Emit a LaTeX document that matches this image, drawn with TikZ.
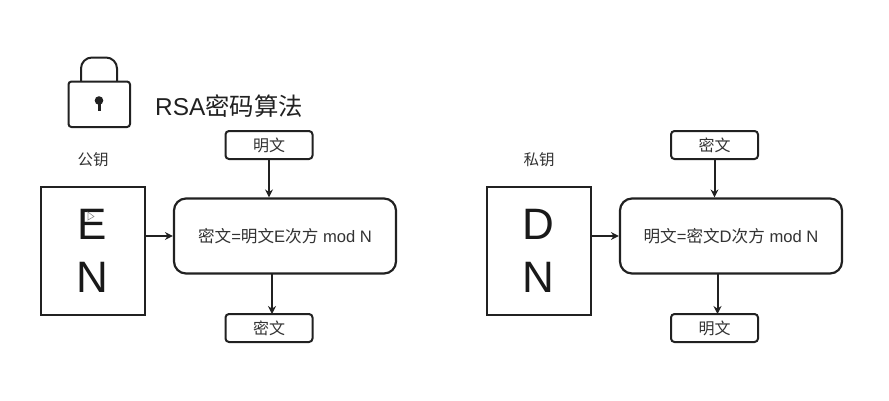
\documentclass[tikz,border=0pt]{standalone}
\usepackage{fontspec}
\setmainfont{Liberation Sans}
\newfontfamily\cjk{Noto Sans CJK SC}
\usetikzlibrary{arrows.meta}
\definecolor{ink}{gray}{0.13}
\tikzset{
 x=1pt,y=-1pt,
 keybox/.style={draw=ink,line width=2pt,minimum width=104pt,minimum height=128pt,inner sep=0pt},
 calc box/.style={draw=ink,line width=2.2pt,rounded corners=12pt,minimum width=222pt,minimum height=75pt,inner sep=0pt,text=black!80,font=\fontsize{16.6pt}{18pt}\selectfont},
 textbox/.style={draw=ink,line width=2pt,rounded corners=3.5pt,minimum width=87pt,minimum height=28pt,inner sep=0pt,text=black!80,font=\cjk\fontsize{16pt}{18pt}\selectfont},
 arr/.style={draw=ink,line width=2pt,-{Stealth[length=8pt,width=8pt]}},
 lab/.style={inner sep=0pt,text=black!80,font=\cjk\fontsize{15.5pt}{18pt}\selectfont},
 letter/.style={inner sep=0pt,text=black!90,font=\fontsize{44pt}{46pt}\selectfont}
}
\begin{document}
\begin{tikzpicture}
\useasboundingbox (0,0) rectangle (889,400);
\fill[white] (0,0) rectangle (889,400);
% lock
\draw[ink,line width=2pt,rounded corners=3pt] (68.5,81.5) rectangle (130,127);
\draw[ink,line width=2pt,rounded corners=11pt] (81,81.5) -- (81,57.5) -- (117,57.5) -- (117,81.5);
\fill[ink] (99,100.5) circle (4.3);
\fill[ink] (97.5,100.5) rectangle (100.5,111);
\node[inner sep=0pt,anchor=west,text=ink,font=\fontsize{24.4pt}{26pt}\selectfont] (title) at (155,106) {RSA{\cjk 密码算法}};
% left
\node[lab] (pub) at (93,160) {公钥};
\node[keybox] (k1) at (93,251) {};
\node[letter] (e) at (92.5,224) {E};
\node[letter] (n1) at (92.5,277.5) {N};
\fill[white,draw=black!45,line width=.6pt] (88,212) -- (88,220) -- (94,216.5) -- cycle;
\node[calc box] (c1) at (285,236) {{\cjk 密文}={\cjk 明文}E{\cjk 次方} mod N};
\node[textbox] (t1) at (269,145) {明文};
\node[textbox] (b1) at (269,328) {密文};
\coordinate (b1a) at (272,274);
\coordinate (b1b) at (272,314);
\draw[arr] (t1) -- (t1|-c1.north);
\draw[arr] (k1.east|-c1) -- (c1.west);
\draw[arr] (b1a) -- (b1b);
% right
\node[lab] (pri) at (539,160) {私钥};
\node[keybox] (k2) at (539,251) {};
\node[letter] (d) at (538.5,224) {D};
\node[letter] (n2) at (538.5,277.5) {N};
\node[calc box] (c2) at (731,236) {{\cjk 明文}={\cjk 密文}D{\cjk 次方} mod N};
\node[textbox] (t2) at (714.5,145) {密文};
\node[textbox] (b2) at (714.5,328) {明文};
\coordinate (b2a) at (717.5,274);
\coordinate (b2b) at (717.5,314);
\draw[arr] (t2) -- (t2|-c2.north);
\draw[arr] (k2.east|-c2) -- (c2.west);
\draw[arr] (b2a) -- (b2b);
\end{tikzpicture}
\end{document}
